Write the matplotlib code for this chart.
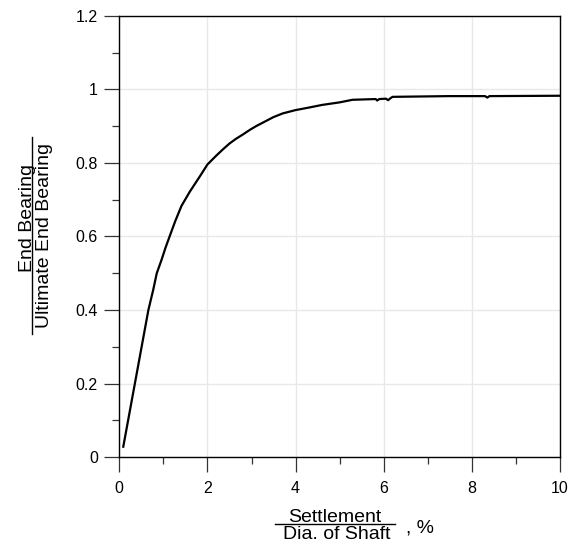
import matplotlib
matplotlib.use("Agg")
import matplotlib.pyplot as plt
from matplotlib.ticker import MultipleLocator
from matplotlib.lines import Line2D

plt.rcParams['font.family'] = ['Liberation Sans', 'DejaVu Sans']

# normalised settlement (% of shaft diameter) vs normalised end bearing
settlement = [0.09, 0.66, 0.77, 0.85, 0.96, 1.05, 1.15, 1.27, 1.41, 1.60, 1.83, 2.00,
              2.20, 2.35, 2.50, 2.65, 2.81, 2.96, 3.10, 3.26, 3.50, 3.71, 4.00, 4.31,
              4.60, 5.00, 5.29, 5.82, 5.85, 5.90, 6.05, 6.10, 6.15, 6.20, 7.48,
              8.30, 8.35, 8.40, 10.0]
bearing = [0.028, 0.400, 0.455, 0.500, 0.537, 0.570, 0.603, 0.642, 0.683, 0.722, 0.764, 0.796,
           0.820, 0.837, 0.853, 0.866, 0.878, 0.890, 0.900, 0.910, 0.925, 0.935, 0.944, 0.951,
           0.958, 0.965, 0.972, 0.974, 0.970, 0.974, 0.975, 0.971, 0.976, 0.980, 0.982,
           0.982, 0.978, 0.982, 0.983]

W, H = 581, 555
fig = plt.figure(figsize=(W / 100, H / 100), dpi=100)

def px(x, y):
    # pixel position -> figure fraction
    return x / W, 1 - y / H

left, top = px(119.3, 16)
right, bottom = px(560, 457)
ax = fig.add_axes([left, bottom, right - left, top - bottom])

ax.plot(settlement, bearing, color='black', lw=1.6)

ax.set_xlim(0, 10)
ax.set_ylim(0, 1.2)
ax.xaxis.set_major_locator(MultipleLocator(2))
ax.xaxis.set_minor_locator(MultipleLocator(1))
ax.yaxis.set_major_locator(MultipleLocator(0.2))
ax.yaxis.set_minor_locator(MultipleLocator(0.1))
ax.xaxis.set_major_formatter(plt.FuncFormatter(lambda v, p: f"{v:g}"))
ax.yaxis.set_major_formatter(plt.FuncFormatter(lambda v, p: f"{v:g}"))

ax.grid(True, which='major', color='#e8e8e8', lw=1.0)
ax.set_axisbelow(True)
ax.tick_params(which='major', direction='out', length=10.5, width=0.9,
               color='#333333', labelsize=11.5)
ax.tick_params(axis='x', which='major', pad=7)
ax.tick_params(axis='y', which='major', pad=5)
ax.tick_params(which='minor', direction='out', length=5, width=0.9, color='#333333')
for s in ax.spines.values():
    s.set_linewidth(1.0)
    s.set_color('black')

# y-axis label as a fraction
x0, y0 = px(32, 218)
fig.text(x0, y0, "End Bearing", rotation=90, rotation_mode='anchor',
         ha='center', va='baseline', fontsize=14)
x0, y0 = px(36, 235)
fig.text(x0, y0, "Ultimate End Bearing", rotation=90, rotation_mode='anchor',
         ha='center', va='top', fontsize=14)
xa, ya = px(32, 137)
xb, yb = px(32, 334)
fig.add_artist(Line2D([xa, xb], [ya, yb], color='black', lw=1.0,
                      transform=fig.transFigure))

# x-axis label as a fraction
x0, y0 = px(335, 522)
fig.text(x0, y0, "Settlement", ha='center', va='baseline', fontsize=14)
x0, y0 = px(337, 526)
fig.text(x0, y0, "Dia. of Shaft", ha='center', va='top', fontsize=14)
xa, ya = px(275, 523.5)
xb, yb = px(395, 523.5)
fig.add_artist(Line2D([xa, xb], [ya, yb], color='black', lw=1.0,
                      transform=fig.transFigure))
x0, y0 = px(406, 528)
fig.text(x0, y0, ", %", ha='left', va='center', fontsize=14)

fig.savefig("out.png", dpi=100, facecolor='white')
